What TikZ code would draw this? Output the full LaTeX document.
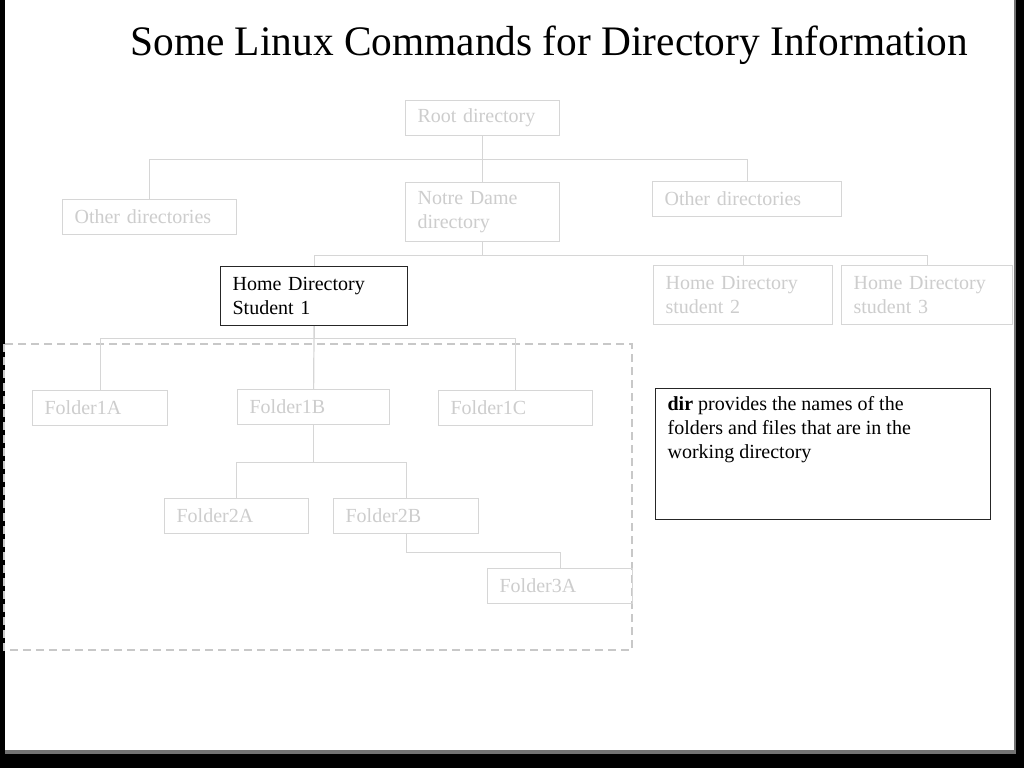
\documentclass[tikz,border=0pt]{standalone}
\usepackage{fontspec}
\setmainfont{Liberation Serif}
\newfontfamily\titlefont[FakeStretch=0.985]{Liberation Serif}
\usetikzlibrary{calc}
\usetikzlibrary{positioning, shapes}
\definecolor{fadeline}{RGB}{214,214,214}
\definecolor{fadetext}{RGB}{205,205,205}
\definecolor{dashgray}{RGB}{200,200,200}
\newlength\Notewd
\setlength\Notewd{155.5pt}
\newcommand\Notebox[2]{%
  \parbox[t][#1][t]{\Notewd}{\raggedright#2}}

\begin{document}
\begin{tikzpicture}[x=0.5pt,y=-0.5pt,
every node/.style={font=\fontsize{10}{12}\selectfont},
leaf/.style={
  draw=fadeline, text=fadetext, line width=0.6pt,
  anchor=north west,
  inner xsep=6pt, inner ysep=0pt,
  text width=#1, align=left,
  minimum height=17.5pt
},
twoline/.style={minimum height=29.5pt},
current/.style={draw=black!85, text=black},
link/.style={draw=fadeline, line width=0.6pt}]
\useasboundingbox (0,0) rectangle (1024,768);
\fill[black] (0,0) rectangle (1024,768);
\fill[black!55] (5,0) rectangle (1016,754);
\fill[white] (5,0) rectangle (1014,750);

\node[anchor=base west, inner sep=0pt, font=\titlefont\fontsize{21}{25}\selectfont] (title) at (130,55)
  {Some Linux Commands for Directory Information};

\draw[dashgray, line width=1pt, dash pattern=on 4pt off 2.5pt] (4,344) rectangle (632,650);

\node[leaf=65pt] (root) at (405,100) {Root directory};
\node[leaf=75pt] (otherL) at (62,199) {Other directories};
\node[leaf=65pt, twoline] (notre) at (405,182) {Notre Dame\\directory};
\node[leaf=82.5pt] (otherR) at (652,181) {Other directories};

\node[leaf=81.5pt, twoline, current] (home1) at (220,266) {Home Directory\\Student 1};
\node[leaf=77.5pt, twoline] (home2) at (653,265) {Home Directory\\student 2};
\node[leaf=73.5pt, twoline] (home3) at (841,265) {Home Directory\\student 3};

\node[leaf=55.5pt] (f1A) at (32,390) {Folder1A};
\node[leaf=64pt] (f1B) at (237,389) {Folder1B};
\node[leaf=65pt] (f1C) at (438,390) {Folder1C};
\node[leaf=60pt] (f2A) at (164,498) {Folder2A};
\node[leaf=60.5pt] (f2B) at (333,498) {Folder2B};
\node[leaf=60.5pt] (f3A) at (487,568) {Folder3A};

\node[draw=black!85, line width=0.6pt, anchor=north west,
  inner xsep=6pt, inner ysep=4pt] (dirnote) at (655,388)
  {\Notebox{57.5pt}{\textbf{dir} provides the names of the\\
   folders and files that are in the\\working directory}};

\draw[link] (root.south) -- ++(0,23) -| (otherL.north);
\draw[link] (root.south) -- ++(0,23) -| (otherR.north);
\draw[link] (root.south) -- (notre.north);
\draw[link] (notre.south) -- ++(0,13) -| (home1.north);
\draw[link] (notre.south) -- ++(0,13) -| (home2.north);
\draw[link] (notre.south) -- ++(0,13) -| (home3.north);
\draw[link] (home1.south) -- ++(0,12) -| (f1A.north);
\draw[link] (home1.south) -- (f1B.north);
\draw[link] (home1.south) -- ++(0,12) -| (f1C.north);
\draw[link] (f1B.south) -- ++(0,37) -| (f2A.north);
\draw[link] (f1B.south) -- ++(0,37) -| (f2B.north);
\draw[link] (f2B.south) -- ++(0,18) -| (f3A.north);
\end{tikzpicture}
\end{document}
